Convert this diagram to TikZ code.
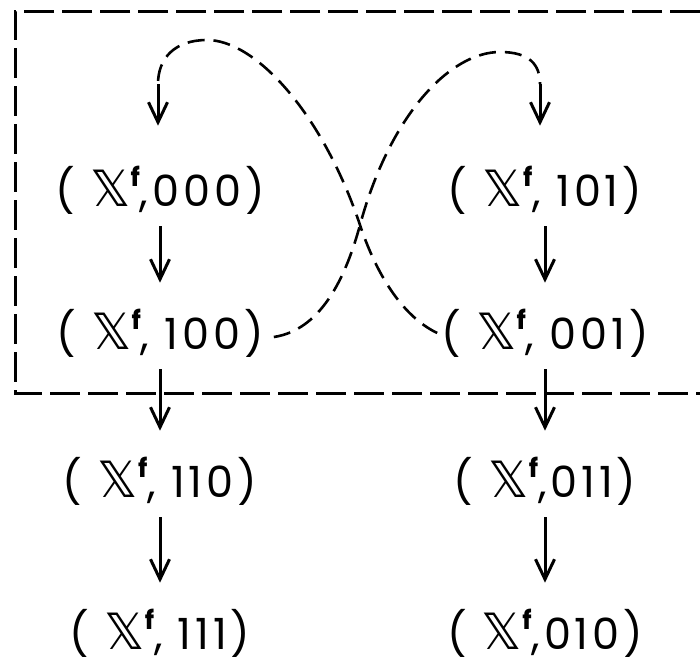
\documentclass[tikz,border=0pt]{standalone}
\usepackage{fontspec}
\setmainfont{Poppins}[LetterSpace=9]
\newfontfamily\dsfont{DejaVu Sans}
\usetikzlibrary{arrows.meta, positioning}
\newcommand{\dsx}{{\dsfont\fontsize{50}{50}\selectfont 𝕏}\raisebox{0.45em}{\fontsize{26}{26}\selectfont\bfseries f}}

\begin{document}
\begin{tikzpicture}[
  x=1pt, y=-1pt,
  node distance=143pt and 385pt, on grid,
  every node/.style={font=\fontsize{43}{46}\selectfont, inner sep=0pt},
  arr/.style={-{Straight Barb[length=20pt,width=19pt]}, line width=3pt},
  dnarr/.style={arr, shorten <=12pt, shorten >=26pt},
  crossline/.style={line width=2.6pt, dash pattern=on 17pt off 9pt},
  boxline/.style={line width=3pt, dash pattern=on 30pt off 8pt}
]
\useasboundingbox (0,0) rectangle (700,667);

% left column
\node (n000) at (160,190) {( \dsx,000)};
\node (n100) [below=of n000] {( \dsx, 100)};
\node (n110) [below=148pt of n100] {( \dsx, 110)};
\node (n111) [below=152pt of n110] {( \dsx, 111)};

% right column
\node (n101) [right=of n000] {( \dsx, 101)};
\node (n001) [right=of n100] {( \dsx, 001)};
\node (n011) [right=of n110] {( \dsx,011)};
\node (n010) [right=of n111] {( \dsx,010)};

% dashed frame, open on the right
\draw[boxline] (700,11) -- (15,11) -- (15,393) -- (700,393);

% straight arrows
\draw[dnarr] (n000) -- (n100);
\draw[dnarr] (n100) -- (n110);
\draw[dnarr] (n110) -- (n111);
\draw[dnarr] (n101) -- (n001);
\draw[dnarr] (n001) -- (n011);
\draw[dnarr] (n011) -- (n010);

% crossing loops
\coordinate (in000) at (158,84);
\coordinate (in101) at (540,84);
\draw[crossline] ([xshift=10pt,yshift=-4pt]n100.east) .. controls (320,330) and (345,280) .. (360,225)
  .. controls (390,115) and (450,52) .. (500,52)
  .. controls (530,52) and (540,65) .. (in101);
\draw[crossline] ([xshift=-4pt]n001.west) .. controls (400,315) and (375,270) .. (360,225)
  .. controls (322,112) and (255,40) .. (207,40)
  .. controls (175,40) and (158,58) .. (in000);
\draw[arr, shorten >=40pt] (in000) -- (in000 |- n000.north);
\draw[arr, shorten >=40pt] (in101) -- (in101 |- n101.north);

\end{tikzpicture}
\end{document}
